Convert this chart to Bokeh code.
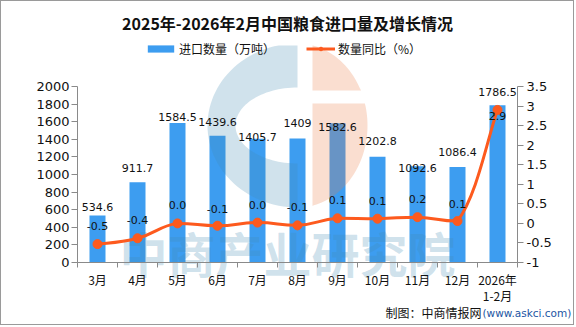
import math
from bokeh.plotting import figure
from bokeh.models import (ColumnDataSource, Range1d, LinearAxis, FixedTicker, Label,
                          Legend, LegendItem)
from bokeh.core.properties import value
from bokeh.embed import file_html
from bokeh.resources import INLINE

# ---- data ----
categories = ["3月", "4月", "5月", "6月", "7月", "8月", "9月", "10月", "11月", "12月", "2026年\n1-2月"]
imports = [534.6, 911.7, 1584.5, 1439.6, 1405.7, 1409, 1582.6, 1202.8, 1092.6, 1086.4, 1786.5]
import_labels = ["534.6", "911.7", "1584.5", "1439.6", "1405.7", "1409", "1582.6", "1202.8", "1092.6", "1086.4", "1786.5"]
yoy = [-0.53, -0.38, 0.0, -0.06, 0.02, -0.05, 0.13, 0.12, 0.16, 0.06, 2.9]
yoy_labels = ["-0.5", "-0.4", "0.0", "-0.1", "0.0", "-0.1", "0.1", "0.1", "0.2", "0.1", "2.9"]
left_ticks = [0, 200, 400, 600, 800, 1000, 1200, 1400, 1600, 1800, 2000]
right_ticks = [-1, -0.5, 0, 0.5, 1, 1.5, 2, 2.5, 3, 3.5]
right_tick_labels = ["-1", "-0.5", "0", "0.5", "1", "1.5", "2", "2.5", "3", "3.5"]

title_text = "2025年-2026年2月中国粮食进口量及增长情况"
series_names = ["进口数量（万吨）", "数量同比（%）"]
watermark_text = "中商产业研究院"
footer_text = "制图：中商情报网"
footer_url = "(www.askci.com)"

# ---- style (label offsets in px, not data) ----
bar_label_dy = [-8, -14, -6, -14, -2, -16, 4, -16, 2, -15, -13]
line_label_dy = [-18, -18, -18, -17, -18, -18, -18, -18, -18, -17, 6]

BAR = "#3d9df0"
LINE = "#fd5a1e"
AXIS = "#8a8a8a"
WM_BLUE = "#438bb3"
WM_SALMON = "#eb7b43"
WM_ALPHA = 0.25
CJK = "Noto Sans CJK SC"
NUM = "DejaVu Sans"

W, H = 574, 325          # figure size inside 1px page border
# pixel layout of the plotting area (page pixels)
PX_L, PX_R, PX_T, PX_B = 77, 517, 86, 262
n = len(categories)
xs = list(range(n))
cat_px = (PX_R - PX_L) / n
ymax_l, ymin_r, ymax_r = 2000, -1, 3.5


def X(px):
    return (px - PX_L) / cat_px - 0.5


def Y(py):
    return (PX_B - py) * ymax_l / (PX_B - PX_T)


def YR(py):
    return ymin_r + (PX_B - py) * (ymax_r - ymin_r) / (PX_B - PX_T)


p = figure(width=W, height=H, output_backend="svg", toolbar_location=None,
           x_range=Range1d(X(1), X(1 + W)), y_range=Range1d(Y(1 + H), Y(1)),
           min_border=0, tools="")
p.styles = {"border": "1px solid #9a9a9a"}
p.outline_line_color = None
p.grid.visible = False
p.xaxis.visible = False
p.yaxis.visible = False
p.extra_y_ranges = {"right": Range1d(YR(1 + H), YR(1))}

# bars
src = ColumnDataSource(dict(x=xs, top=imports, lab=import_labels, dy=bar_label_dy))
bars = p.vbar(x="x", top="top", width=0.4, source=src, fill_color=BAR, line_color=None)

# ---- translucent watermark logo (page-pixel geometry) ----
LX, LY, CLIP_TOP = 297, 125, 45


def arc(a, b, t0, t1, steps=60, cx=LX, cy=LY):
    pts = []
    for k in range(steps + 1):
        t = math.radians(t0 + (t1 - t0) * k / steps)
        pts.append((cx + a * math.cos(t), cy - b * math.sin(t)))
    return pts


outer = [(x, max(y, CLIP_TOP)) for x, y in arc(90, 82, 90, 270)]
inner = arc(62, 38, 270, 90)
blue_poly = outer + [(LX, LY + 38)] + inner + [(LX, CLIP_TOP)]
salmon_full = arc(70, 82, 90, -90, 80)


def salmon_piece(y_lo, y_hi):
    return [(max(x, 312), min(max(y, y_lo), y_hi)) for x, y in salmon_full]


salmon_top = salmon_piece(CLIP_TOP, 90)
salmon_bot = salmon_piece(103, 300)
p.patches(xs=[[X(a) for a, _ in blue_poly]], ys=[[Y(b) for _, b in blue_poly]],
          fill_color=WM_BLUE, fill_alpha=WM_ALPHA, line_color=None)
p.patches(xs=[[X(a) for a, _ in salmon_top], [X(a) for a, _ in salmon_bot]],
          ys=[[Y(b) for _, b in salmon_top], [Y(b) for _, b in salmon_bot]],
          fill_color=WM_SALMON, fill_alpha=WM_ALPHA, line_color=None)
p.text(x=[X(287)], y=[Y(251)], text=[watermark_text], text_align="center",
       text_baseline="middle", text_font=value(CJK), text_font_size="48px",
       text_font_style="bold", text_color=WM_BLUE, text_alpha=WM_ALPHA)

p.text(x="x", y="top", text="lab", y_offset="dy", source=src, text_align="center",
       text_baseline="middle", text_font=value(NUM), text_font_size="11px", text_color="#111111")

# smooth line via bezier segments computed from the data points
t = 0.25
x0, y0, x1, y1, cx0, cy0, cx1, cy1 = [], [], [], [], [], [], [], []
for i in range(n - 1):
    pm = i - 1 if i > 0 else i
    pp = i + 2 if i + 2 < n else i + 1
    lo, hi = min(yoy[i], yoy[i + 1]), max(yoy[i], yoy[i + 1])
    x0.append(xs[i]); y0.append(yoy[i]); x1.append(xs[i + 1]); y1.append(yoy[i + 1])
    cx0.append(xs[i] + (xs[i + 1] - xs[pm]) * t)
    cy0.append(min(hi, max(lo, yoy[i] + (yoy[i + 1] - yoy[pm]) * t)))
    cx1.append(xs[i + 1] - (xs[pp] - xs[i]) * t)
    cy1.append(min(hi, max(lo, yoy[i + 1] - (yoy[pp] - yoy[i]) * t)))
p.bezier(x0=x0, y0=y0, x1=x1, y1=y1, cx0=cx0, cy0=cy0, cx1=cx1, cy1=cy1,
         line_color=LINE, line_width=3, y_range_name="right")
lsrc = ColumnDataSource(dict(x=xs, y=yoy, lab=yoy_labels, dy=line_label_dy))
# legend key for the line series (no drawn points of its own)
line_key = p.line(x=[float("nan"), float("nan")], y=[float("nan"), float("nan")],
                  line_color=LINE, line_width=3, y_range_name="right")
pts = p.scatter(x="x", y="y", source=lsrc, size=9, fill_color=LINE, line_color=LINE,
                y_range_name="right")
p.text(x="x", y="y", text="lab", y_offset="dy", source=lsrc, y_range_name="right",
       text_align="center", text_baseline="middle", text_font=value(NUM), text_font_size="11px",
       text_color="#111111")

# axes (positioned at the edges of the plotting area)
xa = LinearAxis(ticker=FixedTicker(ticks=xs, minor_ticks=[i - 0.5 for i in range(n + 1)]),
                fixed_location=0, bounds=(-0.5, n - 0.5))
xa.major_label_overrides = {i: c for i, c in enumerate(categories)}
xa.major_tick_out = 0
xa.major_tick_in = 0
xa.minor_tick_out = 5
xa.minor_tick_in = 0
xa.minor_tick_line_color = AXIS
xa.axis_line_color = AXIS
xa.major_label_standoff = 3
xa.major_label_text_font = CJK
xa.major_label_text_font_size = "12px"
xa.major_label_text_line_height = 0.95
xa.major_label_text_color = "#111111"
p.add_layout(xa, "below")

ya = LinearAxis(ticker=FixedTicker(ticks=left_ticks, minor_ticks=[]), fixed_location=-0.5,
                bounds=(0, ymax_l))
ya.axis_line_color = AXIS
ya.major_tick_line_color = AXIS
ya.major_tick_out = 6
ya.major_tick_in = 0
ya.minor_tick_out = 0
ya.major_label_standoff = 2
ya.major_label_text_font = NUM
ya.major_label_text_font_size = "13px"
ya.major_label_text_color = "#111111"
p.add_layout(ya, "left")

ra = LinearAxis(y_range_name="right", ticker=FixedTicker(ticks=right_ticks, minor_ticks=[]),
                fixed_location=n - 0.5, bounds=(ymin_r, ymax_r))
ra.major_label_overrides = {v: s for v, s in zip(right_ticks, right_tick_labels)}
ra.axis_line_color = AXIS
ra.major_tick_line_color = AXIS
ra.major_tick_out = 6
ra.major_tick_in = 0
ra.minor_tick_out = 0
ra.major_label_standoff = 3
ra.major_label_text_font = NUM
ra.major_label_text_font_size = "13px"
ra.major_label_text_color = "#111111"
p.add_layout(ra, "right")

# title
p.add_layout(Label(x=286, y=H - 21, x_units="screen", y_units="screen", text=title_text,
                   text_align="center", text_baseline="middle", text_font=CJK,
                   text_font_size="16px", text_font_style="bold", text_color="#111111"))

# legends
common = dict(orientation="horizontal", glyph_height=9, padding=0, margin=0,
              border_line_color=None, background_fill_alpha=0, label_text_font=CJK,
              label_text_font_size="12px", label_height=14, label_text_color="#111111")
leg1 = Legend(items=[LegendItem(label=series_names[0], renderers=[bars])],
              location=(143, H - 56), glyph_width=33, label_standoff=2, **common)
leg2 = Legend(items=[LegendItem(label=series_names[1], renderers=[line_key, pts])],
              location=(305, H - 56), glyph_width=29, label_standoff=3, **common)
p.add_layout(leg1, "center")
p.add_layout(leg2, "center")

# footer
p.add_layout(Label(x=480, y=H - 311, x_units="screen", y_units="screen", text=footer_text,
                   text_align="right", text_baseline="middle", text_font=CJK,
                   text_font_size="12px", text_color="#111111"))
p.add_layout(Label(x=481, y=H - 311, x_units="screen", y_units="screen", text=footer_url,
                   text_align="left", text_baseline="middle", text_font=NUM,
                   text_font_size="10.5px", text_color="#1c55a3"))

open("out.html", "w").write(file_html(p, INLINE))
